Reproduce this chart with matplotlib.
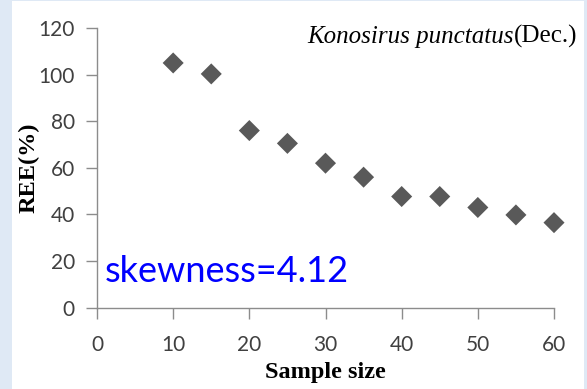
import matplotlib.pyplot as plt
from matplotlib.patches import Rectangle

# REE by sample size
sample_size = [10, 15, 20, 25, 30, 35, 40, 45, 50, 55, 60]
ree = [105, 100.3, 76, 70.5, 62, 56, 47.7, 47.7, 43, 39.8, 36.5]
x_ticks = [0, 10, 20, 30, 40, 50, 60]
y_ticks = [0, 20, 40, 60, 80, 100, 120]

fig = plt.figure(figsize=(5.87, 3.89), dpi=100)
fig.patch.set_facecolor('#dfe9f5')
fig.patches.append(Rectangle((12 / 587, 0), (584 - 12) / 587, 388 / 389,
                             transform=fig.transFigure, facecolor='white',
                             edgecolor='none', zorder=-5))

ax = fig.add_axes([97 / 587, 81.3 / 389, (554 - 97) / 587, (307.7 - 28) / 389])
ax.set_facecolor('none')
ax.scatter(sample_size, ree, marker='D', s=115, color='#595959',
           edgecolors='none', clip_on=False, zorder=3)

ax.set_xlim(0, 60)
ax.set_ylim(0, 120)
ax.set_xticks(x_ticks)
ax.set_yticks(y_ticks)
for s in ['top', 'right']:
    ax.spines[s].set_visible(False)
for s in ['left', 'bottom']:
    ax.spines[s].set_color('#8c8c8c')
    ax.spines[s].set_linewidth(1.0)
ax.tick_params(direction='out', length=8, width=1.0, color='#8c8c8c',
               labelcolor='#404040', labelsize=15)
ax.tick_params(axis='x', pad=12)
ax.tick_params(axis='y', pad=8)
for lab in ax.get_xticklabels() + ax.get_yticklabels():
    lab.set_family('Lato')

ax.set_xlabel('Sample size', family='Liberation Serif', weight='bold',
              fontsize=17.5)
ax.set_ylabel('REE(%)', family='Liberation Serif', weight='bold',
              fontsize=17.5)
ax.xaxis.set_label_coords(0.5, -0.195)
ax.yaxis.set_label_coords(-0.125, 0.5)

# species title: italic name followed by upright month
t_month = fig.text(577 / 587, 1 - 43 / 389, '(Dec.)', ha='right', va='baseline',
                   fontsize=18, family='Liberation Serif')
fig.canvas.draw()
bb = t_month.get_window_extent()
fig.text(bb.x0 / fig.bbox.width, 1 - 43 / 389, 'Konosirus punctatus',
         ha='right', va='baseline', fontsize=18, family='Liberation Serif',
         style='italic')

ax.text(1.0, 11, 'skewness=4.12', color='#0000ff', fontsize=26,
        family='Lato', ha='left', va='baseline')

fig.savefig('out.png', dpi=100)
